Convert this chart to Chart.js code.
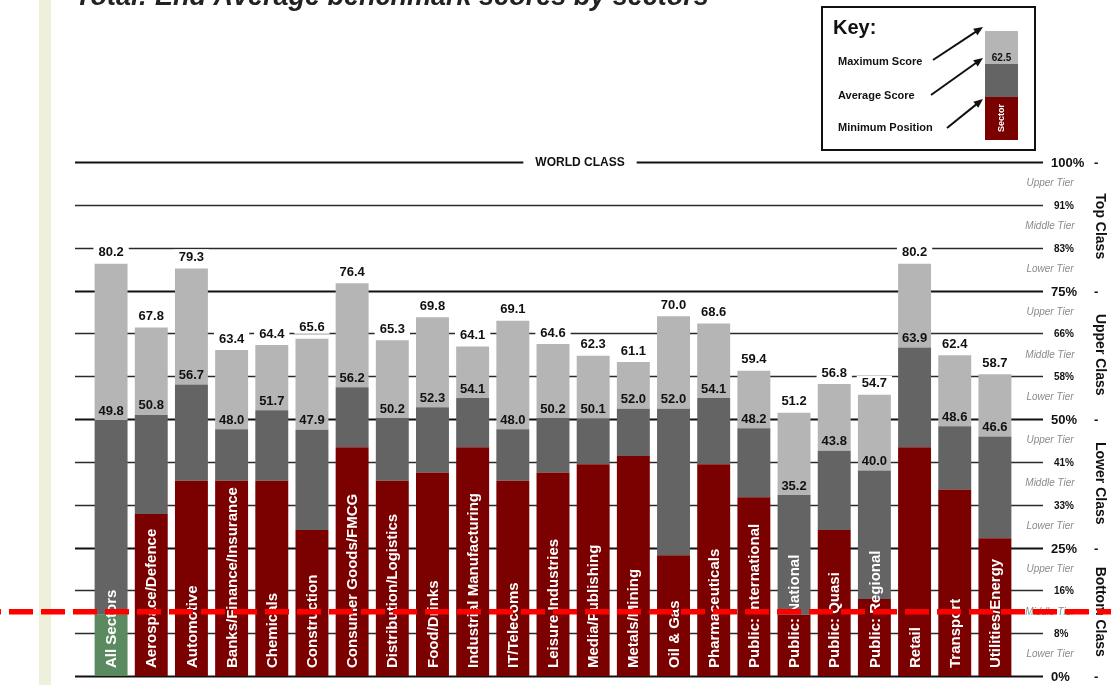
<!DOCTYPE html>
<html><head><meta charset="utf-8">
<script src="https://cdn.jsdelivr.net/npm/chart.js@4.4.0/dist/chart.umd.min.js"></script>
<style>html,body{margin:0;padding:0;background:#fff;overflow:hidden}
canvas{display:block}</style></head>
<body><canvas id="c" width="1111" height="685"></canvas>
<script>
const titleText = "Total: End Average benchmark scores by sectors";
const categories = ["All Sectors","Aerospace/Defence","Automotive","Banks/Finance/Insurance","Chemicals","Construction","Consumer Goods/FMCG","Distribution/Logistics","Food/Drinks","Industrial Manufacturing","IT/Telecoms","Leisure Industries","Media/Publishing","Metals/Mining","Oil & Gas","Pharmaceuticals","Public: International","Public: National","Public: Quasi","Public: Regional","Retail","Transport","Utilities/Energy"];
const minPosition = [11.9,31.5,38.0,38.0,38.0,28.4,44.5,38.0,39.6,44.5,38.0,39.6,41.2,42.8,23.5,41.2,34.8,11.9,28.4,15.0,44.5,36.3,26.8];
const avgScore = [49.8,50.8,56.7,48.0,51.7,47.9,56.2,50.2,52.3,54.1,48.0,50.2,50.1,52.0,52.0,54.1,48.2,35.2,43.8,40.0,63.9,48.6,46.6];
const maxScore = [80.2,67.8,79.3,63.4,64.4,65.6,76.4,65.3,69.8,64.1,69.1,64.6,62.3,61.1,70.0,68.6,59.4,51.2,56.8,54.7,80.2,62.4,58.7];
const majorTicks = [0,25,50,75,100];
const majorTickLabels = ["0%","25%","50%","75%","100%"];
const tierTicks = [8.33,16.67,33.33,41.67,58.33,66.67,83.33,91.67];
const tierTickLabels = ["8%","16%","33%","41%","58%","66%","83%","91%"];
const tierNames = ["Lower Tier","Middle Tier","Upper Tier"];
const classNames = ["Bottom Class","Lower Class","Upper Class","Top Class"];
const topBandLabel = "WORLD CLASS";
const thresholdLine = 12.5;
const keyTitle = "Key:";
const keyLabels = ["Maximum Score","Average Score","Minimum Position"];
const keyExampleValue = "62.5";
const keyExampleSector = "Sector";

const C_MIN = '#7b0000', C_ALL = '#5b8a60', C_AVG = '#646464', C_MAX = '#b5b5b5';
const FONT = '"Liberation Sans", Arial, sans-serif';

const decor = {
  id: 'decor',
  beforeDraw(chart) {
    const ctx = chart.ctx;
    ctx.save();
    ctx.fillStyle = '#fff'; ctx.fillRect(0, 0, chart.width, chart.height);
    ctx.fillStyle = '#eef0d9'; ctx.fillRect(39, 0, 12, chart.height);
    ctx.restore();
  },
  beforeDatasetsDraw(chart) {
    const ctx = chart.ctx, ys = chart.scales.y;
    const LX = 75, RX = 1043;
    ctx.save();
    const all = majorTicks.map((v, i) => ({v, l: majorTickLabels[i], major: true}))
      .concat(tierTicks.map((v, i) => ({v, l: tierTickLabels[i], major: false})));
    all.forEach(t => {
      const y = Math.round(ys.getPixelForValue(t.v)) + 0.5;
      ctx.strokeStyle = t.major ? '#111' : '#2a2a2a';
      ctx.lineWidth = t.major ? 2 : 1.6;
      ctx.beginPath(); ctx.moveTo(LX, y); ctx.lineTo(RX, y); ctx.stroke();
      ctx.fillStyle = '#111';
      ctx.textBaseline = 'middle'; ctx.textAlign = 'left';
      if (t.major) {
        ctx.font = 'bold 13px ' + FONT;
        ctx.fillText(t.l, 1051, y + 1);
        ctx.fillText('-', 1094, y + 1);
      } else {
        ctx.font = 'bold 10px ' + FONT;
        ctx.fillText(t.l, 1054, y + 1);
      }
    });
    const y100 = ys.getPixelForValue(100);
    ctx.font = 'bold 12px ' + FONT;
    const tw = ctx.measureText(topBandLabel).width;
    ctx.fillStyle = '#fff';
    ctx.fillRect(580 - tw / 2 - 12, y100 - 6, tw + 24, 12);
    ctx.fillStyle = '#111'; ctx.textAlign = 'center';
    ctx.fillText(topBandLabel, 580, y100 + 1);
    ctx.font = 'italic 10px ' + FONT;
    ctx.fillStyle = '#8a8a8a';
    for (let c = 0; c < 4; c++) {
      for (let k = 0; k < 3; k++) {
        const lo = c * 25 + k * 25 / 3, hi = lo + 25 / 3;
        const ym = (ys.getPixelForValue(lo) + ys.getPixelForValue(hi)) / 2;
        ctx.fillText(tierNames[k], 1050, ym);
      }
    }
    ctx.font = 'bold 14px ' + FONT;
    ctx.fillStyle = '#111';
    for (let c = 0; c < 4; c++) {
      const ym = (ys.getPixelForValue(c * 25) + ys.getPixelForValue(c * 25 + 25)) / 2;
      ctx.save(); ctx.translate(1100, ym); ctx.rotate(Math.PI / 2);
      ctx.textAlign = 'center'; ctx.textBaseline = 'middle';
      ctx.fillText(classNames[c], 0, 0);
      ctx.restore();
    }
    ctx.restore();
  },
  afterDatasetsDraw(chart) {
    const ctx = chart.ctx, ys = chart.scales.y, xs = chart.scales.x;
    ctx.save();
    ctx.textAlign = 'center'; ctx.textBaseline = 'middle';
    categories.forEach((cat, i) => {
      const x = xs.getPixelForValue(i);
      const yMax = ys.getPixelForValue(maxScore[i]);
      ctx.font = 'bold 13px ' + FONT;
      const s = maxScore[i].toFixed(1);
      const w = ctx.measureText(s).width;
      ctx.fillStyle = '#fff';
      ctx.fillRect(x - w / 2 - 5, yMax - 19, w + 10, 14);
      ctx.fillStyle = '#111';
      ctx.fillText(s, x, yMax - 11);
      const yAvg = ys.getPixelForValue(avgScore[i]);
      ctx.fillText(avgScore[i].toFixed(1), x, yAvg - 9);
      ctx.save();
      ctx.translate(x + 1, ys.getPixelForValue(0) - 8);
      ctx.rotate(-Math.PI / 2);
      ctx.textAlign = 'left';
      ctx.font = 'bold 15px ' + FONT;
      ctx.fillStyle = '#fff';
      ctx.fillText(cat, 0, 0);
      ctx.restore();
    });
    ctx.restore();
  },
  afterDraw(chart) {
    const ctx = chart.ctx, ys = chart.scales.y;
    ctx.save();
    const yt = ys.getPixelForValue(thresholdLine);
    ctx.strokeStyle = '#ff0000'; ctx.lineWidth = 5.5;
    ctx.setLineDash([24, 8]); ctx.lineDashOffset = 23;
    ctx.beginPath(); ctx.moveTo(0, yt); ctx.lineTo(chart.width, yt); ctx.stroke();
    ctx.setLineDash([]);
    ctx.font = 'bold italic 27px ' + FONT;
    ctx.fillStyle = '#222'; ctx.textAlign = 'left'; ctx.textBaseline = 'alphabetic';
    ctx.fillText(titleText, 75, 5);
    ctx.lineWidth = 2; ctx.strokeStyle = '#111';
    ctx.strokeRect(822, 7, 213, 143);
    ctx.font = 'bold 20px ' + FONT; ctx.fillStyle = '#111';
    ctx.fillText(keyTitle, 833, 34);
    ctx.font = 'bold 11px ' + FONT; ctx.textBaseline = 'middle';
    ctx.fillText(keyLabels[0], 838, 62);
    ctx.fillText(keyLabels[1], 838, 96);
    ctx.fillText(keyLabels[2], 838, 128);
    ctx.fillStyle = C_MAX; ctx.fillRect(985, 31, 33, 33);
    ctx.fillStyle = C_AVG; ctx.fillRect(985, 64, 33, 33);
    ctx.fillStyle = C_MIN; ctx.fillRect(985, 97, 33, 43);
    ctx.fillStyle = '#111'; ctx.textAlign = 'center';
    ctx.font = 'bold 10px ' + FONT;
    ctx.fillText(keyExampleValue, 1001.5, 58);
    ctx.save(); ctx.translate(1002, 118); ctx.rotate(-Math.PI / 2);
    ctx.fillStyle = '#fff'; ctx.font = 'bold 9px ' + FONT;
    ctx.fillText(keyExampleSector, 0, 0); ctx.restore();
    const arrow = (x1, y1, x2, y2) => {
      ctx.strokeStyle = '#111'; ctx.fillStyle = '#111'; ctx.lineWidth = 2;
      const a = Math.atan2(y2 - y1, x2 - x1);
      ctx.beginPath(); ctx.moveTo(x1, y1); ctx.lineTo(x2 - 7 * Math.cos(a), y2 - 7 * Math.sin(a)); ctx.stroke();
      ctx.beginPath(); ctx.moveTo(x2, y2);
      ctx.lineTo(x2 - 10 * Math.cos(a - 0.4), y2 - 10 * Math.sin(a - 0.4));
      ctx.lineTo(x2 - 10 * Math.cos(a + 0.4), y2 - 10 * Math.sin(a + 0.4));
      ctx.closePath(); ctx.fill();
    };
    arrow(933, 60, 983, 27);
    arrow(931, 95, 983, 58);
    arrow(947, 128, 983, 99);
    ctx.restore();
  }
};

new Chart(document.getElementById('c').getContext('2d'), {
  type: 'bar',
  data: {
    labels: categories,
    datasets: [
      {label: 'Minimum Position', data: minPosition, backgroundColor: categories.map((c, i) => i === 0 ? C_ALL : C_MIN)},
      {label: 'Average Score', data: avgScore.map((v, i) => v - minPosition[i]), backgroundColor: C_AVG},
      {label: 'Maximum Score', data: maxScore.map((v, i) => v - avgScore[i]), backgroundColor: C_MAX}
    ]
  },
  options: {
    responsive: false, animation: false, devicePixelRatio: 1,
    layout: {padding: {left: 91, right: 96, top: 162, bottom: 9}},
    scales: {
      x: {stacked: true, display: false, offset: true},
      y: {stacked: true, display: false, min: 0, max: 100}
    },
    datasets: {bar: {barPercentage: 0.82, categoryPercentage: 1}},
    plugins: {legend: {display: false}, tooltip: {enabled: false}}
  },
  plugins: [decor]
});
</script></body></html>
